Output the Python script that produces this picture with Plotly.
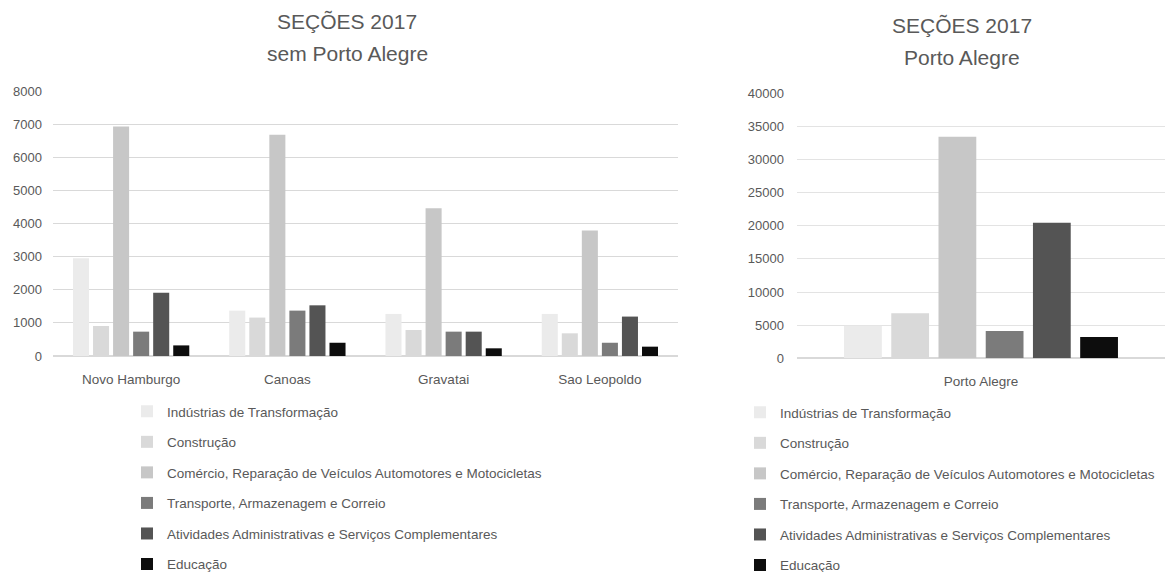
import plotly.graph_objects as go

cities = ["Novo Hamburgo", "Canoas", "Gravatai", "Sao Leopoldo"]
poa = ["Porto Alegre"]
series_names = [
    "Indústrias de Transformação",
    "Construção",
    "Comércio, Reparação de Veículos Automotores e Motocicletas",
    "Transporte, Armazenagem e Correio",
    "Atividades Administrativas e Serviços Complementares",
    "Educação",
]
industrias = [2950, 1370, 1270, 1270]
construcao = [905, 1160, 785, 685]
comercio = [6930, 6680, 4460, 3790]
transporte = [735, 1370, 735, 400]
atividades = [1910, 1530, 735, 1190]
educacao = [320, 400, 232, 282]
left_values = [industrias, construcao, comercio, transporte, atividades, educacao]

poa_values = [4920, 6790, 33450, 4120, 20470, 3220]

colors = ["#ebebeb", "#d9d9d9", "#c7c7c7", "#7b7b7b", "#545454", "#0d0d0d"]

FONT = "Liberation Sans, Arial, sans-serif"
TXT = "#595959"
W, H = 1167, 572

fig = go.Figure()
for i, name in enumerate(series_names):
    fig.add_trace(go.Bar(
        x=cities, y=left_values[i], name=name, marker_color=colors[i],
        marker_line_width=0, xaxis="x", yaxis="y", legend="legend",
        legendgroup="l%d" % i,
    ))
for i, name in enumerate(series_names):
    fig.add_trace(go.Bar(
        x=poa, y=[poa_values[i]], name=name, marker_color=colors[i],
        marker_line_width=0, xaxis="x2", yaxis="y2", legend="legend2",
        legendgroup="r%d" % i,
    ))

def yd(top, bottom):
    return [1 - bottom / H, 1 - top / H]

tickfont = dict(family=FONT, size=13, color=TXT)
catfont = dict(family=FONT, size=13.5, color=TXT)
legfont = dict(family=FONT, size=13.5, color=TXT)
fig.update_layout(
    width=W, height=H,
    margin=dict(l=0, r=0, t=0, b=0, autoexpand=False),
    paper_bgcolor="white", plot_bgcolor="white",
    barmode="group", bargap=0.23, bargroupgap=0.2,
    font=dict(family=FONT, color=TXT),
    showlegend=True,
    xaxis=dict(domain=[53 / W, 678 / W], anchor="y", showline=False, ticks="",
               tickfont=catfont, ticklabelstandoff=13, automargin=False),
    yaxis=dict(domain=yd(91, 356), anchor="x", range=[0, 8000], dtick=1000,
               gridcolor="#d9d9d9", zeroline=True, zerolinecolor="#d9d9d9",
               showline=False, ticks="", tickfont=tickfont,
               ticklabelstandoff=10, automargin=False),
    xaxis2=dict(domain=[797 / W, 1165 / W], anchor="y2", showline=False, ticks="",
                tickfont=catfont, ticklabelstandoff=13, automargin=False),
    yaxis2=dict(domain=yd(93.3, 358.3), anchor="x2", range=[0, 40000], dtick=5000,
                tickformat="d",
                gridcolor="#e3e3e3", zeroline=True, zerolinecolor="#d9d9d9",
                showline=False, ticks="", tickfont=tickfont,
                ticklabelstandoff=12, automargin=False),
    legend=dict(x=127 / W, y=1 - 396 / H, xanchor="left", yanchor="top",
                traceorder="grouped", tracegroupgap=10, itemwidth=30,
                font=legfont, bgcolor="rgba(0,0,0,0)"),
    legend2=dict(x=740 / W, y=1 - 397 / H, xanchor="left", yanchor="top",
                 traceorder="grouped", tracegroupgap=10, itemwidth=30,
                 font=legfont, bgcolor="rgba(0,0,0,0)"),
)

titles = [
    (347, 22, "SEÇÕES 2017"), (347, 54, "sem Porto Alegre"),
    (962, 25, "SEÇÕES 2017"), (962, 57, "Porto Alegre"),
]
for x, y, t in titles:
    fig.add_annotation(x=x / W, y=1 - y / H, xref="paper", yref="paper",
                       text=t, showarrow=False, xanchor="center", yanchor="middle",
                       font=dict(family=FONT, size=21, color=TXT))

fig.write_html(
    "out.html",
    config={"displayModeBar": False},
    post_script="document.body.style.margin='0';document.body.style.padding='0';"
                "document.body.style.overflow='hidden';",
)
